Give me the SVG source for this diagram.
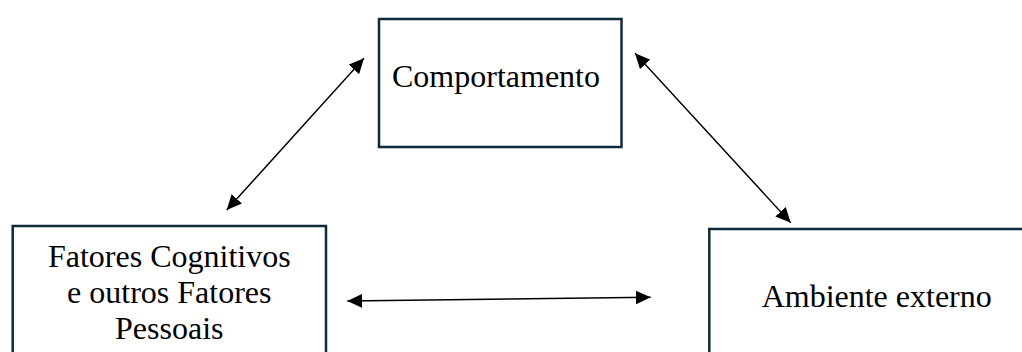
<svg xmlns="http://www.w3.org/2000/svg" width="1022" height="352" viewBox="0 0 1022 352">
<style>
.box{fill:#ffffff;stroke:#0f2a3b;stroke-width:2.5}
.lbl{font-family:"Liberation Serif","Times New Roman",serif;font-size:32px;fill:#000000}
.conn{stroke:#000000;stroke-width:1.4;fill:none;marker-start:url(#arr);marker-end:url(#arr)}
</style>
<defs>
<marker id="arr" markerUnits="userSpaceOnUse" markerWidth="16" markerHeight="14" refX="15" refY="7" orient="auto-start-reverse" viewBox="0 0 16 14">
<path d="M0,0 L15,7 L0,14 z" fill="#000000"/>
</marker>
</defs>
<rect width="1022" height="352" fill="#ffffff"/>
<g id="node-comportamento">
<rect class="box" x="379" y="19" width="242.5" height="128"/>
<text class="lbl" x="392" y="87">Comportamento</text>
</g>
<g id="node-fatores">
<rect class="box" x="12.7" y="226" width="313.3" height="140"/>
<text class="lbl" x="169.3" y="267" text-anchor="middle">Fatores Cognitivos</text>
<text class="lbl" x="169.3" y="303" text-anchor="middle">e outros Fatores</text>
<text class="lbl" x="169.3" y="338.5" text-anchor="middle">Pessoais</text>
</g>
<g id="node-ambiente">
<rect class="box" x="709.3" y="229" width="340" height="140"/>
<text class="lbl" x="876.7" y="306.7" text-anchor="middle">Ambiente externo</text>
</g>
<g id="connectors">
<line class="conn" x1="226.7" y1="210" x2="364" y2="58.3"/>
<line class="conn" x1="635" y1="53.3" x2="790.7" y2="222.7"/>
<line class="conn" x1="347.3" y1="301" x2="650.7" y2="297.3"/>
</g>
</svg>
